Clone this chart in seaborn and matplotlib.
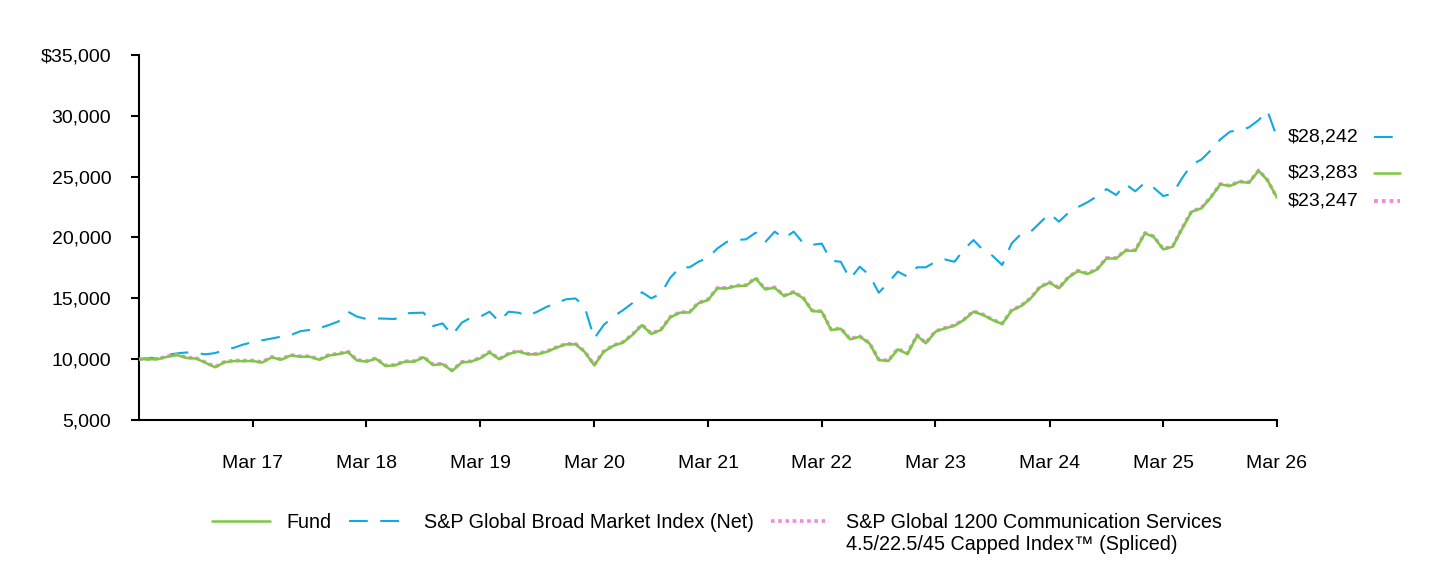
import matplotlib
matplotlib.use("Agg")
import matplotlib.pyplot as plt
import matplotlib.transforms as mtransforms
import seaborn as sns
import pandas as pd
from matplotlib.ticker import FuncFormatter

# Growth of $10,000, monthly values Mar 16 .. Mar 26
fund = [10000, 9990, 10000, 10200, 10340, 10100, 10050, 9700, 9330, 9750,
        9850, 9840, 9850, 9720, 10150, 9950, 10310, 10200, 10200, 9950,
        10300, 10420, 10580, 9900, 9800, 10040, 9440, 9490, 9790, 9800,
        10150, 9520, 9600, 9030, 9740, 9790, 10070, 10560, 9990, 10420,
        10640, 10400, 10400, 10610, 10940, 11220, 11220, 10600, 9490, 10600,
        11100, 11350, 11980, 12800, 12070, 12400, 13440, 13820, 13850, 14590,
        14860, 15820, 15820, 16010, 16040, 16640, 15740, 15870, 15190, 15490,
        15000, 13960, 13900, 12400, 12500, 11630, 11850, 11300, 9930, 9850,
        10810, 10420, 11930, 11300, 12260, 12530, 12750, 13220, 13900, 13630,
        13220, 12890, 13980, 14370, 15000, 15900, 16290, 15820, 16720, 17240,
        17000, 17380, 18280, 18280, 18910, 18910, 20340, 20060, 19020, 19240,
        20750, 22120, 22390, 23300, 24370, 24230, 24580, 24500, 25490, 24720,
        23283]

broad = [10000, 10100, 10100, 10350, 10480, 10550, 10500, 10400, 10500, 10750,
         10950, 11200, 11400, 11550, 11700, 11850, 11980, 12300, 12400, 12550,
         12800, 13100, 13900, 13500, 13300, 13350, 13330, 13300, 13760, 13800,
         13820, 12720, 12940, 11980, 13000, 13400, 13490, 13900, 13080, 13900,
         13820, 13570, 13900, 14310, 14600, 14920, 14990, 14300, 11700, 12800,
         13500, 14000, 14600, 15500, 15000, 15400, 16700, 17550, 17550, 18000,
         18350, 19100, 19650, 19800, 19850, 20400, 19600, 20480, 19930, 20480,
         19520, 19400, 19500, 18100, 18000, 16600, 17600, 16900, 15460, 16300,
         17200, 16780, 17550, 17550, 18010, 18200, 18010, 19000, 19790, 18970,
         18500, 17740, 19500, 20300, 20480, 21200, 21980, 21300, 22040, 22500,
         22900, 23400, 23980, 23490, 24390, 23800, 24500, 24100, 23410, 23600,
         24900, 26000, 26400, 27180, 28060, 28700, 28820, 29050, 29650, 30420,
         28242]

capped = [10000, 10010, 10030, 10240, 10380, 10140, 10090, 9740, 9370, 9790,
          9890, 9880, 9890, 9760, 10190, 9990, 10350, 10240, 10240, 9990,
          10340, 10460, 10620, 9940, 9840, 10080, 9480, 9530, 9830, 9840,
          10190, 9560, 9640, 9070, 9780, 9830, 10110, 10600, 10030, 10460,
          10680, 10440, 10440, 10650, 10980, 11260, 11260, 10640, 9530, 10640,
          11140, 11390, 12020, 12840, 12110, 12440, 13480, 13860, 13890, 14630,
          14900, 15860, 15860, 16050, 16080, 16680, 15780, 15910, 15230, 15530,
          15040, 14000, 13940, 12440, 12540, 11670, 11890, 11340, 9970, 9890,
          10850, 10460, 11970, 11340, 12300, 12570, 12790, 13260, 13940, 13670,
          13260, 12930, 14020, 14410, 15040, 15940, 16330, 15860, 16760, 17280,
          17040, 17420, 18320, 18320, 18950, 18950, 20380, 20100, 19060, 19280,
          20790, 22160, 22430, 23340, 24400, 24260, 24610, 24530, 25520, 24740,
          23247]

dates = pd.date_range("2016-03-31", periods=len(fund), freq="ME")
tick_dates = dates[12::12]
tick_labels = [d.strftime("Mar %y") for d in tick_dates]

names = ["Fund",
         "S&P Global Broad Market Index (Net)",
         "S&P Global 1200 Communication Services"]
second_line = "4.5/22.5/45 Capped Index\u2122 (Spliced)"

green = "#7AC943"
blue = "#10A9E0"
pink = "#F28BDA"

sns.set_theme(style="white")
plt.rcParams["font.family"] = ["Liberation Sans", "DejaVu Sans"]
plt.rcParams["text.color"] = "black"
plt.rcParams["xtick.color"] = "black"
plt.rcParams["ytick.color"] = "black"
plt.rcParams["xtick.labelcolor"] = "black"
plt.rcParams["ytick.labelcolor"] = "black"

fig = plt.figure(figsize=(14.4, 5.64), dpi=100)
ax = fig.add_axes([139 / 1440, 1 - 420 / 564, 1138 / 1440, 365 / 564])

df = pd.DataFrame({"date": dates, "fund": fund, "broad": broad, "capped": capped})

sns.lineplot(data=df, x="date", y="broad", ax=ax, color=blue, linewidth=1.5,
             label=names[1], zorder=2)
ax.lines[-1].set_linestyle((0, (9, 6)))
sns.lineplot(data=df, x="date", y="capped", ax=ax, color=pink, linewidth=2.6,
             label=names[2], zorder=3)
ax.lines[-1].set_linestyle((0, (1, 1)))
sns.lineplot(data=df, x="date", y="fund", ax=ax, color=green, linewidth=1.8,
             label=names[0], zorder=4)

ax.set_xlim(dates[0], dates[-1])
ax.set_ylim(5000, 35000)
ax.set_yticks(range(5000, 35001, 5000))
ax.yaxis.set_major_formatter(FuncFormatter(
    lambda v, _: f"${v:,.0f}" if v == 35000 else f"{v:,.0f}"))
ax.set_xticks(tick_dates)
ax.set_xticklabels(tick_labels)
ax.set_xlabel("")
ax.set_ylabel("")

sns.despine(ax=ax)
for s in ["left", "bottom"]:
    ax.spines[s].set_color("black")
    ax.spines[s].set_linewidth(1.5)
ax.tick_params(axis="y", direction="out", length=6, width=1.5, color="black",
               pad=14, labelsize=14, labelcolor="black", left=True)
ax.tick_params(axis="x", direction="out", length=5, width=1.5, color="black",
               pad=20, labelsize=14, labelcolor="black", bottom=True)
ax.grid(False)

# end-of-period value labels on the right
ends = [(broad[-1], blue, (0, (9, 6)), 1.5, 0),
        (fund[-1], green, "-", 1.8, 18),
        (capped[-1], pink, (0, (1, 1)), 2.8, -2)]
for val, col, ls, lw, dy in ends:
    off = mtransforms.ScaledTranslation(0, dy / 72, fig.dpi_scale_trans)
    trans = mtransforms.blended_transform_factory(ax.transAxes, ax.transData) + off
    ax.text(1 + 11 / 1138, val, f"${val:,.0f}", transform=trans, ha="left",
            va="center", fontsize=14, color="black")
    ax.plot([1 + 97 / 1138, 1 + 123 / 1138], [val, val], transform=trans,
            color=col, linestyle=ls, linewidth=lw, clip_on=False)

ax.get_legend().remove()
handles = {l.get_label(): l for l in ax.lines if l.get_label() in names}
leg = fig.legend([handles[n] for n in names], names, loc="center left",
                 bbox_to_anchor=(212 / 1440, 1 - 522 / 564), ncol=3,
                 frameon=False, fontsize=14.2, handlelength=2.95,
                 handletextpad=0.82, columnspacing=0.9, borderpad=0,
                 borderaxespad=0)
for t in leg.get_texts():
    t.set_color("black")

fig.canvas.draw()
bb = leg.get_texts()[2].get_window_extent()
fig.text(bb.x0 / fig.bbox.width, ((bb.y0 + bb.y1) / 2 - 23) / fig.bbox.height,
         second_line, ha="left", va="center", fontsize=14.2, color="black")

fig.savefig("out.png", dpi=100)
